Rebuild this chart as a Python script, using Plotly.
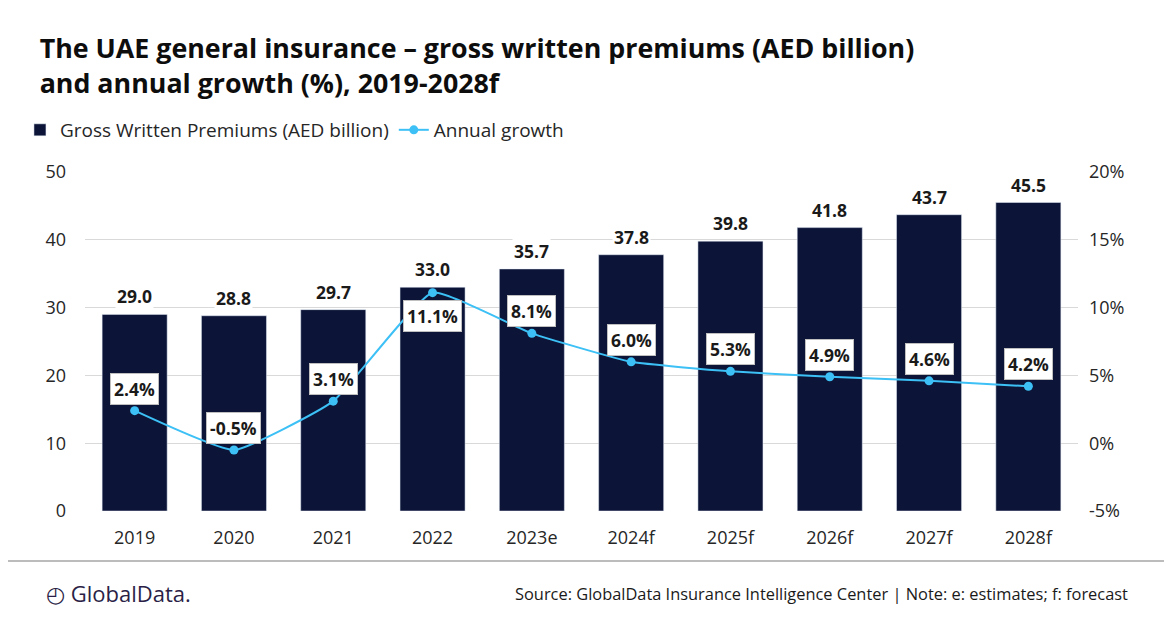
import plotly.graph_objects as go

years = ["2019", "2020", "2021", "2022", "2023e", "2024f", "2025f", "2026f", "2027f", "2028f"]
premiums = [29.0, 28.8, 29.7, 33.0, 35.7, 37.8, 39.8, 41.8, 43.7, 45.5]
growth = [2.4, -0.5, 3.1, 11.1, 8.1, 6.0, 5.3, 4.9, 4.6, 4.2]
left_ticks = [0, 10, 20, 30, 40, 50]
right_ticks = [-5, 0, 5, 10, 15, 20]

BAR = "#0c1538"
LINE = "#3cc0f5"
FONT = "Open Sans"

pos = list(range(len(years)))

fig = go.Figure()
fig.add_trace(go.Bar(
    x=pos, y=premiums, name="Gross Written Premiums (AED billion)",
    marker_color=BAR, width=0.655,
))
fig.add_trace(go.Scatter(
    x=pos, y=growth, name="Annual growth", yaxis="y2",
    mode="lines+markers", line=dict(color=LINE, width=2, shape="spline", smoothing=0.4),
    marker=dict(size=9, color=LINE),
))

# bar value labels
for i, v in zip(pos, premiums):
    fig.add_annotation(
        x=i, y=v, xref="x", yref="y", text=f"<b>{v:.1f}</b>", showarrow=False,
        yshift=18, bgcolor="white", font=dict(size=17.5, color="#1a1a1a"),
    )

# growth labels in boxes
for i, g in zip(pos, growth):
    below = g == max(growth)
    fig.add_annotation(
        x=i, y=g, xref="x", yref="y2", text=f"<b>{g:.1f}%</b>", showarrow=False,
        yshift=-23 if below else 22, bgcolor="white", bordercolor="#bfbfbf",
        borderwidth=1, borderpad=3, font=dict(size=17.5, color="#1a1a1a"),
    )

fig.update_layout(
    width=1172, height=628,
    paper_bgcolor="white", plot_bgcolor="white",
    font=dict(family=FONT, size=18, color="#262626"),
    margin=dict(l=77, r=102, t=164, b=125),
    title=dict(
        text="<b>The UAE general insurance – gross written premiums (AED billion)<br>and annual growth (%), 2019-2028f</b>",
        x=0.027, xanchor="left", y=0.92, yanchor="top",
        font=dict(family=FONT, size=26.8, color="#0d0d0d"),
    ),
    legend=dict(
        orientation="h", x=-0.0655, xanchor="left", y=1.124, yanchor="middle",
        font=dict(size=19, color="#262626"), traceorder="normal",
    ),
    xaxis=dict(
        range=[-0.5, len(years) - 0.5], tickvals=pos, ticktext=years,
        showline=False, ticks="", showgrid=False, zeroline=False, tickfont=dict(size=18),
        ticklabelstandoff=14,
    ),
    yaxis=dict(
        range=[0, 50], tickvals=left_ticks, gridcolor="#d9d9d9", zeroline=False,
        tickfont=dict(size=18), ticklabelstandoff=18,
    ),
    yaxis2=dict(
        range=[-5, 20], tickvals=right_ticks, ticktext=[f"{t}%" for t in right_ticks],
        overlaying="y", side="right", showgrid=False, zeroline=False,
        tickfont=dict(size=18), ticklabelstandoff=10,
    ),
)

# footer rule, logo text, source
fig.add_shape(type="line", xref="paper", yref="paper", x0=-0.1, x1=1.1,
              y0=-0.1475, y1=-0.1475, line=dict(color="#a6a6a6", width=1.5))
fig.add_annotation(
    xref="paper", yref="paper", x=-0.041, y=-0.242, xanchor="left", yanchor="middle",
    text="◴ GlobalData.", showarrow=False, font=dict(family=FONT, size=22, color="#2b1f47"),
)
fig.add_annotation(
    xref="paper", yref="paper", x=1.0524, y=-0.242, xanchor="right", yanchor="middle",
    text="Source: GlobalData Insurance Intelligence Center | Note: e: estimates; f: forecast",
    showarrow=False, font=dict(family=FONT, size=16.4, color="#1a1a1a"),
)

fig.write_html("out.html")
